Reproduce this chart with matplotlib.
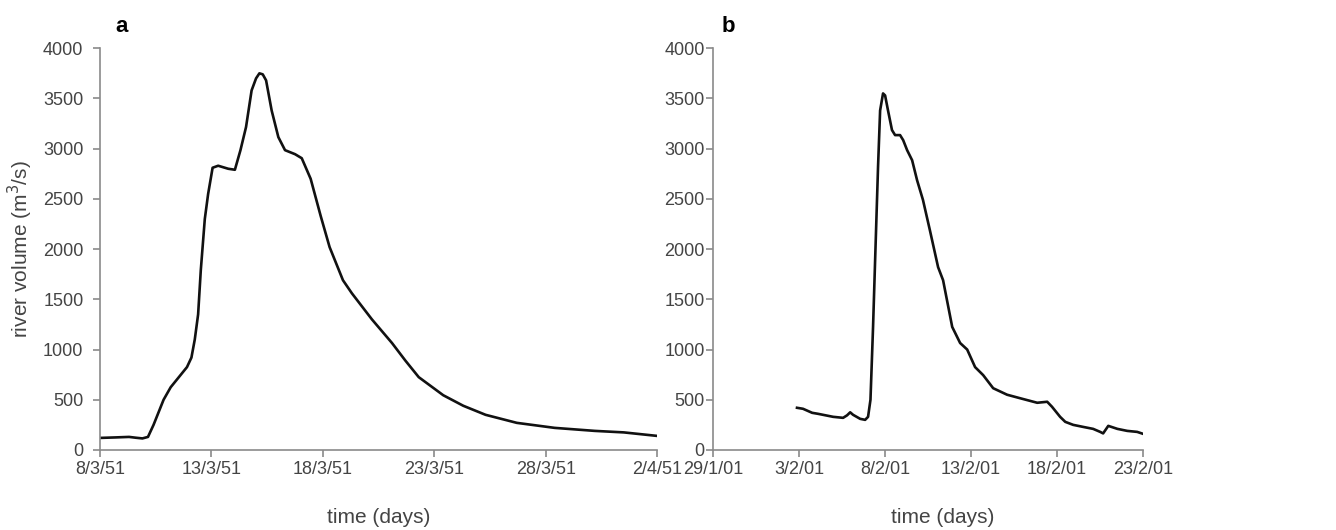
import pandas as pd
import matplotlib.pyplot as plt
import matplotlib.dates as mdates

plt.rcParams['font.family'] = ['Liberation Sans', 'DejaVu Sans']

# panel a: flood of March 1951 (days after 8/3/51, m3/s)
start_a = '1951-03-08'
days_a = [0, 0.7, 1.3, 1.6, 1.9, 2.15, 2.4, 2.85, 3.17, 3.9, 4.1, 4.25, 4.4,
          4.52, 4.7, 4.85, 5.05, 5.3, 5.75, 6.05, 6.3, 6.55, 6.8, 7.0, 7.15,
          7.3, 7.45, 7.7, 8.0, 8.3, 8.75, 9.05, 9.45, 9.9, 10.3, 10.9, 11.3,
          12.2, 13.1, 13.7, 14.3, 15.4, 16.3, 17.3, 18.7, 20.4, 22.2, 23.5, 25.0]
vol_a = [120, 125, 130, 122, 115, 130, 250, 500, 625, 825, 920, 1100, 1350,
         1790, 2300, 2550, 2810, 2830, 2800, 2790, 2985, 3215, 3580, 3700, 3750,
         3740, 3680, 3380, 3115, 2985, 2945, 2905, 2700, 2330, 2020, 1690, 1560,
         1300, 1065, 890, 725, 545, 440, 350, 270, 220, 190, 175, 140]

# panel b: flood of February 2001 (days after 29/1/01, m3/s)
start_b = '2001-01-29'
days_b = [4.88, 5.23, 5.76, 6.1, 6.98, 7.56, 7.79, 7.97, 8.14, 8.55, 8.84,
          9.01, 9.15, 9.3, 9.42, 9.59, 9.71, 9.88, 10.0, 10.17, 10.4, 10.58,
          10.87, 11.05, 11.28, 11.57, 11.86, 12.2, 12.6, 13.08, 13.37, 13.9,
          14.36, 14.77, 15.23, 15.7, 16.28, 17.09, 17.85, 18.84, 19.42, 19.7,
          20.17, 20.47, 20.93, 21.5, 22.09, 22.5, 22.67, 22.97, 23.5, 24.07,
          24.65, 25.0]
vol_b = [420, 410, 370, 360, 330, 320, 345, 375, 350, 310, 300,
         330, 500, 1225, 1890, 2820, 3380, 3550, 3530, 3380, 3185, 3135,
         3135, 3085, 2985, 2885, 2685, 2490, 2190, 1820, 1690, 1225,
         1065, 1000, 825, 745, 615, 550, 515, 470, 480, 430,
         330, 280, 250, 230, 210, 180, 165, 240, 210, 190,
         180, 160]

yticks = [0, 500, 1000, 1500, 2000, 2500, 3000, 3500, 4000]


def to_dates(start, days):
    return pd.Timestamp(start) + pd.to_timedelta(days, unit='D')


def style(ax, start):
    t0 = pd.Timestamp(start)
    ax.set_xlim(t0, t0 + pd.Timedelta(days=25))
    ax.set_ylim(0, 4000)
    ax.set_yticks(yticks)
    ax.set_xticks([t0 + pd.Timedelta(days=d) for d in range(0, 26, 5)])
    ax.xaxis.set_major_formatter(mdates.DateFormatter('%-d/%-m/%y'))
    for s in ['top', 'right']:
        ax.spines[s].set_visible(False)
    for s in ['left', 'bottom']:
        ax.spines[s].set_color('#8a8a8a')
        ax.spines[s].set_linewidth(1.2)
    ax.tick_params(colors='#8a8a8a', labelcolor='#444444', labelsize=13,
                   length=5, width=1.2)
    ax.tick_params(axis='x', pad=3)
    ax.set_xlabel('time (days)', fontsize=15, color='#444444')
    ax.xaxis.set_label_coords(0.5, -0.145)


fig = plt.figure(figsize=(13.36, 5.3), dpi=100)
ax1 = fig.add_axes([0.0749, 0.151, 0.417, 0.758])
ax2 = fig.add_axes([0.5337, 0.151, 0.322, 0.758])

ax1.plot(to_dates(start_a, days_a), vol_a, color='#111111', lw=1.9)
ax2.plot(to_dates(start_b, days_b), vol_b, color='#111111', lw=1.9)

style(ax1, start_a)
style(ax2, start_b)
ax1.tick_params(axis='y', pad=7)
ax2.tick_params(axis='y', pad=1)
ax2.xaxis.set_label_coords(0.535, -0.145)

ax1.set_ylabel('river volume (m$^3$/s)', fontsize=15, color='#444444')
ax1.yaxis.set_label_coords(-0.116, 0.5)

fig.text(0.086, 0.94, 'a', fontsize=16, fontweight='bold')
fig.text(0.540, 0.94, 'b', fontsize=16, fontweight='bold')

fig.savefig('out.png', dpi=100, facecolor='white')
